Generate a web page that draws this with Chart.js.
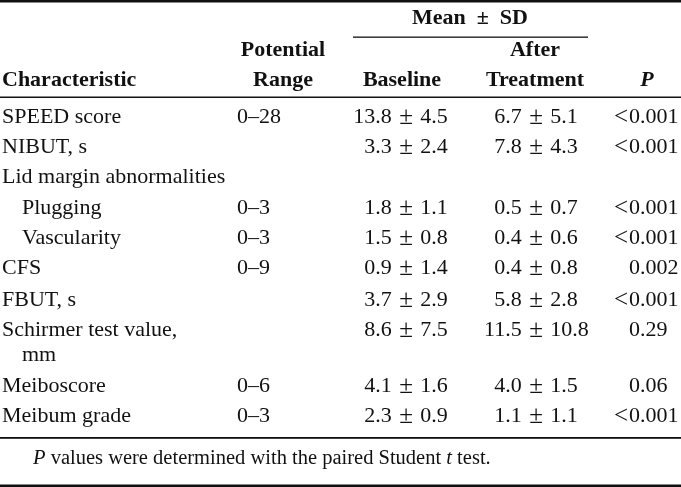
<!DOCTYPE html>
<html>
<head>
<meta charset="utf-8">
<script src="https://cdn.jsdelivr.net/npm/chart.js@4"></script>
<style>
    body { margin: 0; background: #ffffff; }
    #wrap { width: 681px; height: 487px; position: relative; }
</style>
</head>
<body>
<div id="wrap"><canvas id="speedTable"></canvas></div>
<script>
// table values
const characteristics = ["SPEED score", "NIBUT, s", "Lid margin abnormalities", "Plugging", "Vascularity",
    "CFS", "FBUT, s", "Schirmer test value,|mm", "Meiboscore", "Meibum grade"];
const indentLevel = [0, 0, 0, 1, 1, 0, 0, 0, 0, 0];
const potentialRange = ["0–28", "", "", "0–3", "0–3", "0–9", "", "", "0–6", "0–3"];
const baselineMean = [13.8, 3.3, null, 1.8, 1.5, 0.9, 3.7, 8.6, 4.1, 2.3];
const baselineSD = [4.5, 2.4, null, 1.1, 0.8, 1.4, 2.9, 7.5, 1.6, 0.9];
const afterMean = [6.7, 7.8, null, 0.5, 0.4, 0.4, 5.8, 11.5, 4.0, 1.1];
const afterSD = [5.1, 4.3, null, 0.7, 0.6, 0.8, 2.8, 10.8, 1.5, 1.1];
const pValues = ["<0.001", "<0.001", "", "<0.001", "<0.001", "0.002", "<0.001", "0.29", "0.06", "<0.001"];
const footnote = ["P", " values were determined with the paired Student ", "t", " test."];

// layout (pixel units of the hidden scales)
const rowCenters = [117, 147, 177, 208, 238, 268, 300, 330, 386, 416];
const lineGap = 25;
const colChar = 2, colIndent = 22, colRange = 237, colBasePm = 406, colAfterPm = 536, colP = 629;
const pmGap = 7.5;
const serif = '"Liberation Serif", "Times New Roman", serif';
const bodyFont = "22px " + serif;
const headFont = "bold 22px " + serif;
const symbolFont = "25px " + serif;

function drawPm(ctx, px, py, cx, cy, mean, sd) {
    ctx.font = symbolFont;
    const pmW = ctx.measureText("±").width;
    ctx.textAlign = "center";
    ctx.fillText("±", px(cx), py(cy));
    ctx.font = bodyFont;
    ctx.textAlign = "right";
    ctx.fillText(mean.toFixed(1), px(cx) - pmW / 2 - pmGap, py(cy));
    ctx.textAlign = "left";
    ctx.fillText(sd.toFixed(1), px(cx) + pmW / 2 + pmGap, py(cy));
}

const tablePlugin = {
    id: "tablePlugin",
    afterDraw(chart) {
        const ctx = chart.ctx;
        const x = chart.scales.x, y = chart.scales.y;
        const px = v => x.getPixelForValue(v);
        const py = v => y.getPixelForValue(v);
        ctx.save();
        ctx.fillStyle = "#111111";
        ctx.textBaseline = "middle";

        // rules
        ctx.fillRect(px(0), py(0), px(681) - px(0), 2.5);
        ctx.fillRect(px(353), py(36.5), px(588) - px(353), 1.3);
        ctx.fillRect(px(0), py(96.5), px(681) - px(0), 1.5);
        ctx.fillRect(px(0), py(437), px(681) - px(0), 1.8);
        ctx.fillRect(px(0), py(484.5), px(681) - px(0), 2.5);

        // header
        ctx.font = headFont;
        ctx.textAlign = "left";
        ctx.fillText("Characteristic", px(colChar), py(80));
        ctx.textAlign = "center";
        ctx.fillText("Potential", px(283), py(50));
        ctx.fillText("Range", px(283), py(80));
        ctx.fillText("Mean  ±  SD", px(470), py(18));
        ctx.fillText("Baseline", px(402), py(80));
        ctx.fillText("After", px(535), py(50));
        ctx.fillText("Treatment", px(535), py(80));
        ctx.font = "italic " + headFont;
        ctx.fillText("P", px(647), py(80));

        // body rows
        characteristics.forEach((name, i) => {
            const cy = rowCenters[i];
            ctx.font = bodyFont;
            ctx.textAlign = "left";
            const lines = name.split("|");
            ctx.fillText(lines[0], px(indentLevel[i] ? colIndent : colChar), py(cy));
            if (lines[1]) {
                ctx.fillText(lines[1], px(colIndent), py(cy + lineGap));
            }
            ctx.fillText(potentialRange[i], px(colRange), py(cy));
            if (baselineMean[i] != null) {
                drawPm(ctx, px, py, colBasePm, cy, baselineMean[i], baselineSD[i]);
                drawPm(ctx, px, py, colAfterPm, cy, afterMean[i], afterSD[i]);
            }
            const p = pValues[i];
            if (p) {
                ctx.font = bodyFont;
                ctx.textAlign = "left";
                const num = p.replace("<", "");
                ctx.fillText(num, px(colP), py(cy));
                if (p.startsWith("<")) {
                    ctx.font = symbolFont;
                    ctx.textAlign = "right";
                    ctx.fillText("<", px(colP) - 1, py(cy));
                }
            }
        });

        // footnote with italic P and t
        let fx = px(33);
        ctx.textAlign = "left";
        footnote.forEach((part, i) => {
            ctx.font = (i % 2 === 0 ? "italic " : "") + "20.5px " + serif;
            ctx.fillText(part, fx, py(459));
            fx += ctx.measureText(part).width;
        });
        ctx.restore();
    }
};

new Chart(document.getElementById("speedTable"), {
    type: "scatter",
    data: { datasets: [] },
    options: {
        responsive: true,
        maintainAspectRatio: false,
        animation: false,
        layout: { padding: 0 },
        scales: {
            x: { type: "linear", min: 0, max: 681, display: false },
            y: { type: "linear", min: 0, max: 487, reverse: true, display: false },
        },
        plugins: {
            legend: { display: false },
            tooltip: { enabled: false },
        },
    },
    plugins: [tablePlugin],
});
</script>
</body>
</html>
